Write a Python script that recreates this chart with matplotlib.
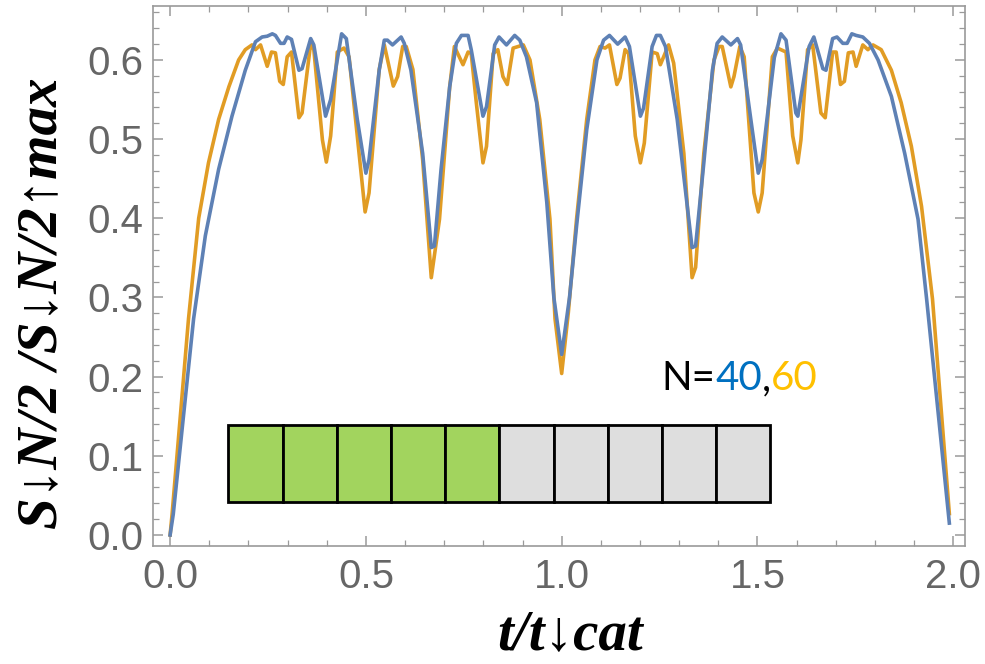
"""
Spin squeezing ratio vs. time for two chain lengths (N=40, 60).
"""

import matplotlib
matplotlib.use("Agg")
import matplotlib.pyplot as plt
from matplotlib.patches import Rectangle
from matplotlib.ticker import MultipleLocator

# N = 40 (blue)
t_n40 = [0.000, 0.008, 0.060, 0.090, 0.124, 0.158, 0.192, 0.218, 0.235, 0.248,
         0.261, 0.269, 0.282, 0.291, 0.299, 0.310, 0.329, 0.337, 0.359, 0.367,
         0.397, 0.410, 0.438, 0.450, 0.478, 0.500, 0.508, 0.534, 0.547, 0.555,
         0.568, 0.590, 0.598, 0.615, 0.645, 0.667, 0.675, 0.692, 0.714, 0.731,
         0.744, 0.761, 0.769, 0.799, 0.808, 0.829, 0.840, 0.859, 0.880, 0.893,
         0.910, 0.936, 0.962, 0.980, 1.000,
         1.020, 1.038, 1.064, 1.090, 1.107, 1.122, 1.143, 1.162, 1.173, 1.201,
         1.209, 1.231, 1.242, 1.252, 1.265, 1.295, 1.333, 1.342, 1.363, 1.385,
         1.397, 1.410, 1.432, 1.449, 1.457, 1.483, 1.502, 1.512, 1.543, 1.560,
         1.573, 1.598, 1.603, 1.632, 1.644, 1.667, 1.675, 1.692, 1.703, 1.718,
         1.729, 1.741, 1.752, 1.769, 1.786, 1.808, 1.842, 1.876, 1.910, 1.932,
         1.990]
s_n40 = [0.000, 0.026, 0.273, 0.378, 0.462, 0.529, 0.587, 0.623, 0.629, 0.630,
         0.633, 0.631, 0.621, 0.621, 0.629, 0.626, 0.587, 0.589, 0.627, 0.619,
         0.529, 0.550, 0.633, 0.627, 0.525, 0.457, 0.474, 0.587, 0.625, 0.625,
         0.619, 0.629, 0.621, 0.587, 0.482, 0.363, 0.365, 0.462, 0.566, 0.621,
         0.631, 0.631, 0.613, 0.529, 0.541, 0.619, 0.629, 0.619, 0.631, 0.625,
         0.604, 0.546, 0.420, 0.300, 0.228,
         0.300, 0.390, 0.512, 0.600, 0.625, 0.631, 0.620, 0.629, 0.617, 0.529,
         0.539, 0.617, 0.631, 0.631, 0.617, 0.525, 0.363, 0.365, 0.470, 0.587,
         0.621, 0.629, 0.619, 0.627, 0.619, 0.525, 0.457, 0.474, 0.603, 0.633,
         0.625, 0.533, 0.529, 0.617, 0.629, 0.589, 0.587, 0.627, 0.629, 0.621,
         0.621, 0.633, 0.631, 0.629, 0.621, 0.600, 0.554, 0.482, 0.399, 0.298,
         0.015]

# N = 60 (orange)
t_n60 = [0.000, 0.005, 0.047, 0.073, 0.098, 0.124, 0.150, 0.175, 0.192, 0.209,
         0.218, 0.231, 0.248, 0.259, 0.269, 0.280, 0.289, 0.299, 0.310, 0.329,
         0.337, 0.359, 0.367, 0.389, 0.399, 0.410, 0.427, 0.444, 0.457, 0.478,
         0.498, 0.508, 0.534, 0.547, 0.570, 0.581, 0.594, 0.603, 0.620, 0.645,
         0.667, 0.688, 0.714, 0.726, 0.748, 0.761, 0.769, 0.782, 0.799, 0.808,
         0.825, 0.837, 0.850, 0.861, 0.876, 0.889, 0.902, 0.919, 0.944, 0.970,
         0.983, 1.000,
         1.017, 1.038, 1.064, 1.085, 1.098, 1.111, 1.122, 1.141, 1.149, 1.162,
         1.171, 1.188, 1.201, 1.211, 1.231, 1.244, 1.252, 1.273, 1.286, 1.312,
         1.333, 1.342, 1.363, 1.389, 1.402, 1.410, 1.432, 1.440, 1.455, 1.466,
         1.491, 1.502, 1.512, 1.538, 1.551, 1.573, 1.590, 1.603, 1.611, 1.628,
         1.641, 1.662, 1.673, 1.692, 1.701, 1.712, 1.722, 1.732, 1.744, 1.752,
         1.769, 1.782, 1.795, 1.816, 1.842, 1.867, 1.893, 1.919, 1.947, 1.990]
s_n60 = [0.000, 0.026, 0.273, 0.400, 0.470, 0.525, 0.566, 0.600, 0.613, 0.619,
         0.613, 0.619, 0.592, 0.610, 0.609, 0.573, 0.569, 0.604, 0.610, 0.527,
         0.533, 0.621, 0.613, 0.499, 0.471, 0.504, 0.610, 0.615, 0.604, 0.504,
         0.408, 0.432, 0.588, 0.619, 0.567, 0.579, 0.617, 0.617, 0.588, 0.474,
         0.325, 0.399, 0.566, 0.617, 0.594, 0.610, 0.608, 0.546, 0.470, 0.491,
         0.608, 0.613, 0.579, 0.569, 0.615, 0.617, 0.619, 0.600, 0.525, 0.399,
         0.273, 0.204,
         0.281, 0.399, 0.525, 0.600, 0.617, 0.615, 0.619, 0.569, 0.577, 0.613,
         0.608, 0.504, 0.470, 0.495, 0.610, 0.608, 0.594, 0.619, 0.596, 0.482,
         0.325, 0.338, 0.482, 0.600, 0.617, 0.617, 0.566, 0.579, 0.617, 0.604,
         0.432, 0.408, 0.432, 0.604, 0.615, 0.610, 0.504, 0.470, 0.499, 0.613,
         0.619, 0.533, 0.527, 0.610, 0.610, 0.569, 0.573, 0.609, 0.610, 0.592,
         0.619, 0.613, 0.619, 0.613, 0.587, 0.546, 0.491, 0.415, 0.298, 0.027]

# inset chain: first 5 cells filled (green), rest empty (grey)
n_cells = 10
n_filled = 5

label_font = ["Liberation Serif", "DejaVu Serif"]

fig = plt.figure(figsize=(9.85, 6.64), dpi=100)
ax = fig.add_axes([0.1556, 0.1782, 0.8241, 0.8133])

ax.plot(t_n40, s_n40, color="#5E81B5", lw=2.6, zorder=3)
ax.plot(t_n60, s_n60, color="#E19C24", lw=2.6, zorder=2)

ax.set_xlim(-0.043, 2.030)
ax.set_ylim(-0.0135, 0.6686)

# frame / ticks, Mathematica style
for sp in ax.spines.values():
    sp.set_color("#9a9a9a")
    sp.set_linewidth(1.2)
ax.xaxis.set_major_locator(MultipleLocator(0.5))
ax.xaxis.set_minor_locator(MultipleLocator(0.1))
ax.yaxis.set_major_locator(MultipleLocator(0.1))
ax.yaxis.set_minor_locator(MultipleLocator(0.02))
ax.tick_params(which="both", direction="in", top=True, right=True,
               color="#9a9a9a", labelcolor="#666666")
ax.tick_params(which="major", length=7, width=1.1, labelsize=29)
ax.tick_params(which="minor", length=4, width=0.9)
ax.tick_params(axis="x", pad=9)
ax.tick_params(axis="y", pad=7)
for lab in ax.get_xticklabels() + ax.get_yticklabels():
    lab.set_family("Liberation Sans")

ax.set_xlabel("t/t↓cat", family=label_font, fontsize=41, fontweight="bold",
              fontstyle="italic")
ax.set_ylabel("S↓N/2 /S↓N/2↑max", family=label_font, fontsize=41,
              fontweight="bold", fontstyle="italic")
ax.xaxis.set_label_coords(0.513, -0.118)
ax.yaxis.set_label_coords(-0.105, 0.449)

# chain of cells
x0, w = 0.149, 0.1384
y0, h = 0.0417, 0.0973
for i in range(n_cells):
    fc = "#A2D45E" if i < n_filled else "#DEDEDE"
    ax.add_patch(Rectangle((x0 + i * w, y0), w, h, facecolor=fc,
                           edgecolor="black", lw=2, zorder=4))

# "N=40,60" with coloured numbers
parts = [("N=", "black"), ("40", "#0070C0"), (",", "black"), ("60", "#FFC000")]
prev = ax.text(1.254, 0.183, parts[0][0], color=parts[0][1], fontsize=29,
               family="Lato", va="baseline", ha="left")
for txt, col in parts[1:]:
    prev = ax.annotate(txt, xy=(1, 0), xycoords=prev, color=col, fontsize=29,
                       family="Lato", va="bottom", ha="left")

fig.savefig("out.png", dpi=100)
